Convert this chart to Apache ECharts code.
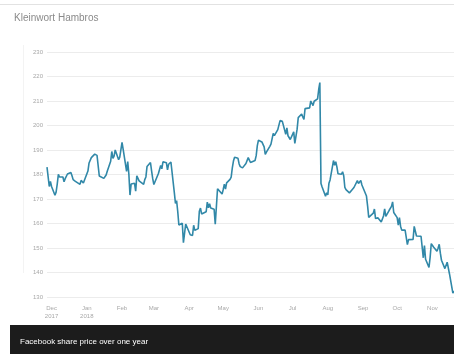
<!DOCTYPE html>
<html>
<head>
<meta charset="utf-8">
<script src="https://cdn.jsdelivr.net/npm/echarts@6/dist/echarts.min.js"></script>
<style>html,body{margin:0;padding:0;background:#fff;}#c{width:454px;height:354px;}</style>
</head>
<body>
<div id="c"></div>
<script>
const monthNames = ['Jan','Feb','Mar','Apr','May','Jun','Jul','Aug','Sep','Oct','Nov','Dec'];
const yearLabels = {'2017-11':'Dec\n2017','2018-0':'Jan\n2018'};
const yTicks = {min:130, max:230, interval:10};
const dates = [
'2017-11-27','2017-11-28','2017-11-29','2017-11-30',
'2017-12-01','2017-12-04','2017-12-05','2017-12-06','2017-12-07','2017-12-08','2017-12-11','2017-12-12','2017-12-13','2017-12-14','2017-12-15','2017-12-18','2017-12-19','2017-12-20','2017-12-21','2017-12-22','2017-12-26','2017-12-27','2017-12-28','2017-12-29',
'2018-01-02','2018-01-03','2018-01-04','2018-01-05','2018-01-08','2018-01-09','2018-01-10','2018-01-11','2018-01-12','2018-01-16','2018-01-17','2018-01-18','2018-01-19','2018-01-22','2018-01-23','2018-01-24','2018-01-25','2018-01-26','2018-01-29','2018-01-30','2018-01-31',
'2018-02-01','2018-02-02','2018-02-05','2018-02-06','2018-02-07','2018-02-08','2018-02-09','2018-02-12','2018-02-13','2018-02-14','2018-02-15','2018-02-16','2018-02-20','2018-02-21','2018-02-22','2018-02-23','2018-02-26','2018-02-27','2018-02-28',
'2018-03-01','2018-03-02','2018-03-05','2018-03-06','2018-03-07','2018-03-08','2018-03-09','2018-03-12','2018-03-13','2018-03-14','2018-03-15','2018-03-16','2018-03-19','2018-03-20','2018-03-21','2018-03-22','2018-03-23','2018-03-26','2018-03-27','2018-03-28','2018-03-29',
'2018-04-02','2018-04-03','2018-04-04','2018-04-05','2018-04-06','2018-04-09','2018-04-10','2018-04-11','2018-04-12','2018-04-13','2018-04-16','2018-04-17','2018-04-18','2018-04-19','2018-04-20','2018-04-23','2018-04-24','2018-04-25','2018-04-26','2018-04-27','2018-04-30',
'2018-05-01','2018-05-02','2018-05-03','2018-05-04','2018-05-07','2018-05-08','2018-05-09','2018-05-10','2018-05-11','2018-05-14','2018-05-15','2018-05-16','2018-05-17','2018-05-18','2018-05-21','2018-05-22','2018-05-23','2018-05-24','2018-05-25','2018-05-29','2018-05-30','2018-05-31',
'2018-06-01','2018-06-04','2018-06-05','2018-06-06','2018-06-07','2018-06-08','2018-06-11','2018-06-12','2018-06-13','2018-06-14','2018-06-15','2018-06-18','2018-06-19','2018-06-20','2018-06-21','2018-06-22','2018-06-25','2018-06-26','2018-06-27','2018-06-28','2018-06-29',
'2018-07-02','2018-07-03','2018-07-05','2018-07-06','2018-07-09','2018-07-10','2018-07-11','2018-07-12','2018-07-13','2018-07-16','2018-07-17','2018-07-18','2018-07-19','2018-07-20','2018-07-23','2018-07-24','2018-07-25','2018-07-26','2018-07-27','2018-07-30','2018-07-31',
'2018-08-01','2018-08-02','2018-08-03','2018-08-06','2018-08-07','2018-08-08','2018-08-09','2018-08-10','2018-08-13','2018-08-14','2018-08-15','2018-08-16','2018-08-17','2018-08-20','2018-08-21','2018-08-22','2018-08-23','2018-08-24','2018-08-27','2018-08-28','2018-08-29','2018-08-30','2018-08-31',
'2018-09-04','2018-09-05','2018-09-06','2018-09-07','2018-09-10','2018-09-11','2018-09-12','2018-09-13','2018-09-14','2018-09-17','2018-09-18','2018-09-19','2018-09-20','2018-09-21','2018-09-24','2018-09-25','2018-09-26','2018-09-27','2018-09-28',
'2018-10-01','2018-10-02','2018-10-03','2018-10-04','2018-10-05','2018-10-08','2018-10-09','2018-10-10','2018-10-11','2018-10-12','2018-10-15','2018-10-16','2018-10-17','2018-10-18','2018-10-19','2018-10-22','2018-10-23','2018-10-24','2018-10-25','2018-10-26','2018-10-29','2018-10-30','2018-10-31',
'2018-11-01','2018-11-02','2018-11-05','2018-11-06','2018-11-07','2018-11-08','2018-11-09','2018-11-12','2018-11-13','2018-11-14','2018-11-15','2018-11-16','2018-11-19','2018-11-20'
];
const prices = [
183.0,182.4,175.1,177.2,
175.1,171.5,172.8,176.1,180.1,179.0,179.0,177.0,178.3,178.4,180.2,180.8,179.5,177.9,177.5,177.2,176.0,177.6,177.9,176.5,
181.4,184.7,184.3,186.9,188.3,187.9,187.8,187.8,179.4,178.4,177.6,179.8,181.3,185.4,189.4,186.6,187.5,190.0,186.0,187.1,186.9,
193.1,190.3,181.3,185.3,180.2,171.6,176.1,176.4,173.2,179.5,180.0,177.4,176.0,177.9,179.0,183.3,184.9,181.5,178.3,
175.9,176.6,180.4,179.8,183.7,182.3,185.2,184.8,181.9,184.2,183.9,185.1,172.6,168.2,169.4,164.9,159.4,160.1,152.2,153.0,159.8,
155.4,156.1,155.1,159.3,157.2,157.9,165.0,166.3,163.9,164.5,164.8,168.7,166.4,168.1,166.3,165.8,159.7,159.7,174.2,173.6,172.0,
173.9,176.1,174.0,176.6,178.0,178.9,182.7,185.5,187.0,186.6,184.3,183.2,183.8,182.7,184.5,183.8,186.9,185.9,184.9,185.7,187.7,191.8,
194.0,193.3,192.9,191.3,188.2,189.1,191.5,192.4,192.4,196.8,195.9,198.3,197.5,202.0,201.5,201.7,196.4,199.0,195.8,196.2,194.3,
197.4,192.7,198.5,203.2,204.7,203.5,202.5,206.9,207.3,207.2,210.0,209.4,208.1,209.9,210.9,214.7,217.5,176.3,174.9,171.1,172.6,
171.7,176.4,177.8,185.7,183.8,185.2,183.1,180.3,180.1,181.1,179.5,174.7,173.8,172.5,172.6,173.6,172.9,174.7,177.5,176.3,175.9,177.6,175.7,
171.2,167.2,162.5,163.0,164.2,165.9,162.0,161.4,162.3,160.6,160.3,163.1,166.0,162.9,165.4,164.9,167.0,168.8,164.5,
162.4,159.3,162.4,158.9,157.3,157.3,157.9,151.4,153.4,153.7,153.5,158.8,159.4,154.9,154.1,154.8,154.4,146.0,151.0,145.4,142.1,146.2,151.8,
151.8,150.4,148.7,149.9,151.5,147.9,145.0,141.6,142.2,144.2,143.9,139.5,131.6,132.4
];
const xRange = {min:'2017-11-27', max:'2018-11-20'};
const titleText = 'Kleinwort Hambros';
const captionText = 'Facebook share price over one year';

const chart = echarts.init(document.getElementById('c'), null, {renderer:'canvas'});
const seriesData = dates.map((d,i)=>[d, prices[i]]);
const FONT = '"Liberation Sans", Arial, sans-serif';
chart.setOption({
  animation:false,
  backgroundColor:'#ffffff',
  title:{text:titleText,left:9,top:8,textStyle:{fontSize:10,color:'#8a8a8a',fontWeight:'normal',fontFamily:FONT}},
  grid:{left:47,right:0,top:52,bottom:57,containLabel:false},
  xAxis:{
    type:'time', min:xRange.min, max:xRange.max, splitNumber:12,
    axisLine:{show:false}, axisTick:{show:false}, splitLine:{show:false},
    axisLabel:{
      margin:7, fontSize:6, lineHeight:8, color:'#a8a8a8', fontFamily:FONT,
      showMinLabel:true, showMaxLabel:false, hideOverlap:false,
      formatter:function(v){
        const d=new Date(v);
        if(d.getDate()!==1) return '';
        const k=d.getFullYear()+'-'+d.getMonth();
        return yearLabels[k] || monthNames[d.getMonth()];
      }
    }
  },
  yAxis:{
    type:'value', min:yTicks.min, max:yTicks.max, interval:yTicks.interval,
    axisLine:{show:false}, axisTick:{show:false},
    splitLine:{lineStyle:{color:'#ececec',width:1}},
    axisLabel:{margin:4,fontSize:6,color:'#a8a8a8',fontFamily:FONT}
  },
  series:[{
    type:'line', data:seriesData, showSymbol:false, symbol:'none',
    lineStyle:{color:'#3188a8',width:1.6}, clip:true
  }],
  graphic:[
    {type:'line',shape:{x1:0,y1:4.5,x2:454,y2:4.5},style:{stroke:'#e2e2e2',lineWidth:1},silent:true},
    {type:'line',shape:{x1:23.5,y1:45,x2:23.5,y2:273},style:{stroke:'#f3f3f3',lineWidth:1},silent:true},
    {type:'rect',shape:{x:10,y:325,width:444,height:29},style:{fill:'#1c1c1c'},silent:true},
    {type:'text',x:20,y:342,style:{text:captionText,fill:'#ffffff',font:'8px '+FONT,textVerticalAlign:'middle',verticalAlign:'middle'},silent:true}
  ]
});
</script>
</body>
</html>
